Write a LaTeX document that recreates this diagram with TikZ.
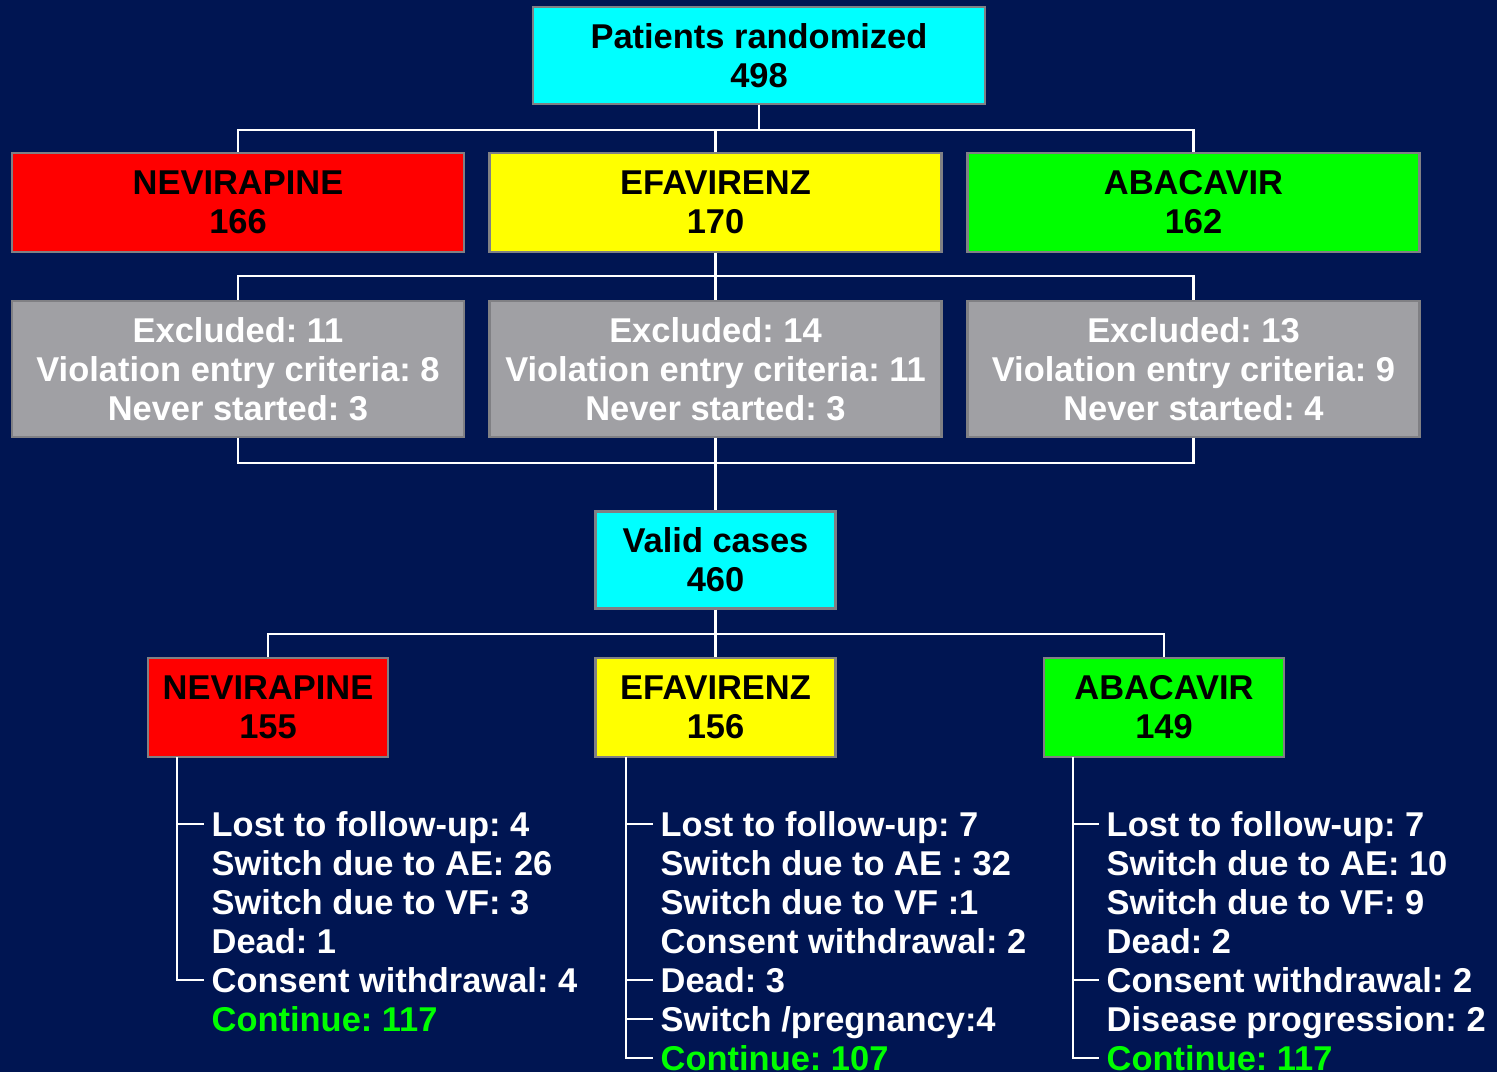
\documentclass[tikz,border=0pt]{standalone}
\usepackage{fontspec}
\setmainfont{Liberation Sans}
\frenchspacing
\definecolor{navy}{RGB}{0,21,82}
\definecolor{boxgray}{RGB}{128,128,132}
\definecolor{exgray}{RGB}{160,160,164}
\definecolor{cyanbox}{RGB}{0,255,255}
\definecolor{redbox}{RGB}{255,0,0}
\definecolor{yellowbox}{RGB}{255,255,0}
\definecolor{greenbox}{RGB}{0,255,0}
\begin{document}
\begin{tikzpicture}
\tikzset{
	b/.style={draw=boxgray, line width=0.6pt, align=center, inner sep=0pt,
		font=\bfseries\fontsize{9.8}{11.1}\selectfont},
	wide/.style={b, minimum width=4.52cm, minimum height=0.99cm},
	narrow/.style={b, minimum width=2.40cm, minimum height=0.97cm},
	w/.style={draw=white, line width=0.6pt},
	l/.style={anchor=west, text=white, inner xsep=0.07cm, inner ysep=0pt,
		text height=0.25cm, text depth=0cm, font=\bfseries\fontsize{9.8}{11.1}\selectfont},
	cont/.style={l, text=greenbox}
}

\useasboundingbox (0,0) rectangle (14.97,-10.72);
\fill[navy] (0,0) rectangle (14.97,-10.72);

% top
\node[wide, fill=cyanbox, minimum height=0.97cm] (top) at(7.59,-0.555) {Patients randomized\\498};

% randomized arms
\node[wide, fill=redbox]    (nev1) at(2.38,-2.025)  {NEVIRAPINE\\166};
\node[wide, fill=yellowbox] (efa1) at(7.155,-2.025) {EFAVIRENZ\\170};
\node[wide, fill=greenbox]  (aba1) at(11.935,-2.025) {ABACAVIR\\162};

% excluded
\node[wide, fill=exgray, text=white, minimum height=1.36cm] (ex_nev) at(2.38,-3.69)
	{Excluded: 11\\Violation entry criteria: 8\\Never started: 3};
\node[wide, fill=exgray, text=white, minimum height=1.36cm] (ex_efa) at(7.155,-3.69)
	{Excluded: 14\\Violation entry criteria: 11\\Never started: 3};
\node[wide, fill=exgray, text=white, minimum height=1.36cm] (ex_aba) at(11.935,-3.69)
	{Excluded: 13\\Violation entry criteria: 9\\Never started: 4};

% valid cases
\node[narrow, fill=cyanbox] (valid) at(7.155,-5.60) {Valid cases\\460};

% valid arms
\node[narrow, fill=redbox,    minimum height=0.99cm] (nev2) at(2.68,-7.075)  {NEVIRAPINE\\155};
\node[narrow, fill=yellowbox, minimum height=0.99cm] (efa2) at(7.155,-7.075) {EFAVIRENZ\\156};
\node[narrow, fill=greenbox,  minimum height=0.99cm] (aba2) at(11.64,-7.075) {ABACAVIR\\149};

% connectors
\coordinate (j1) at (7.59,-1.30);
\draw[w] (top.south) -- (j1);
\draw[w] (nev1.north) |- (j1) -| (aba1.north);
\draw[w] (efa1.north) -- (efa1.north |- j1);

\coordinate (j2) at (7.155,-2.76);
\draw[w] (efa1.south) -- (ex_efa.north);
\draw[w] (ex_nev.north) |- (j2) -| (ex_aba.north);

\coordinate (j3) at (7.155,-4.63);
\draw[w] (ex_efa.south) -- (valid.north);
\draw[w] (ex_nev.south) |- (j3) -| (ex_aba.south);

\coordinate (j4) at (7.155,-6.34);
\draw[w] (valid.south) -- (efa2.north);
\draw[w] (nev2.north) |- (j4) -| (aba2.north);

% NEVIRAPINE follow-up
\node[l] (l_nev1) at(2.04,-8.24) {Lost to follow-up: 4};
\node[l] (l_nev2) at(2.04,-8.63) {Switch due to AE: 26};
\node[l] (l_nev3) at(2.04,-9.02) {Switch due to VF: 3};
\node[l] (l_nev4) at(2.04,-9.41) {Dead: 1};
\node[l] (l_nev5) at(2.04,-9.80) {Consent withdrawal: 4};
\node[cont] (l_nev6) at(2.04,-10.19) {Continue: 117};
\coordinate (t_nev) at (1.77,-7.57);
\draw[w] (t_nev) |- (l_nev5.west);
\draw[w] (t_nev |- l_nev1.west) -- (l_nev1.west);

% EFAVIRENZ follow-up
\node[l] (l_efa1) at(6.53,-8.24) {Lost to follow-up: 7};
\node[l] (l_efa2) at(6.53,-8.63) {Switch due to AE : 32};
\node[l] (l_efa3) at(6.53,-9.02) {Switch due to VF :1};
\node[l] (l_efa4) at(6.53,-9.41) {Consent withdrawal: 2};
\node[l] (l_efa5) at(6.53,-9.80) {Dead: 3};
\node[l] (l_efa6) at(6.53,-10.19) {Switch /pregnancy:4};
\node[cont] (l_efa7) at(6.53,-10.58) {Continue: 107};
\coordinate (t_efa) at (6.26,-7.57);
\draw[w] (t_efa) |- (l_efa7.west);
\draw[w] (t_efa |- l_efa1.west) -- (l_efa1.west);
\draw[w] (t_efa |- l_efa5.west) -- (l_efa5.west);
\draw[w] (t_efa |- l_efa6.west) -- (l_efa6.west);

% ABACAVIR follow-up
\node[l] (l_aba1) at(10.99,-8.24) {Lost to follow-up: 7};
\node[l] (l_aba2) at(10.99,-8.63) {Switch due to AE: 10};
\node[l] (l_aba3) at(10.99,-9.02) {Switch due to VF: 9};
\node[l] (l_aba4) at(10.99,-9.41) {Dead: 2};
\node[l] (l_aba5) at(10.99,-9.80) {Consent withdrawal: 2};
\node[l] (l_aba6) at(10.99,-10.19) {Disease progression: 2};
\node[cont] (l_aba7) at(10.99,-10.58) {Continue: 117};
\coordinate (t_aba) at (10.73,-7.57);
\draw[w] (t_aba) |- (l_aba7.west);
\draw[w] (t_aba |- l_aba1.west) -- (l_aba1.west);
\draw[w] (t_aba |- l_aba5.west) -- (l_aba5.west);

\end{tikzpicture}
\end{document}
